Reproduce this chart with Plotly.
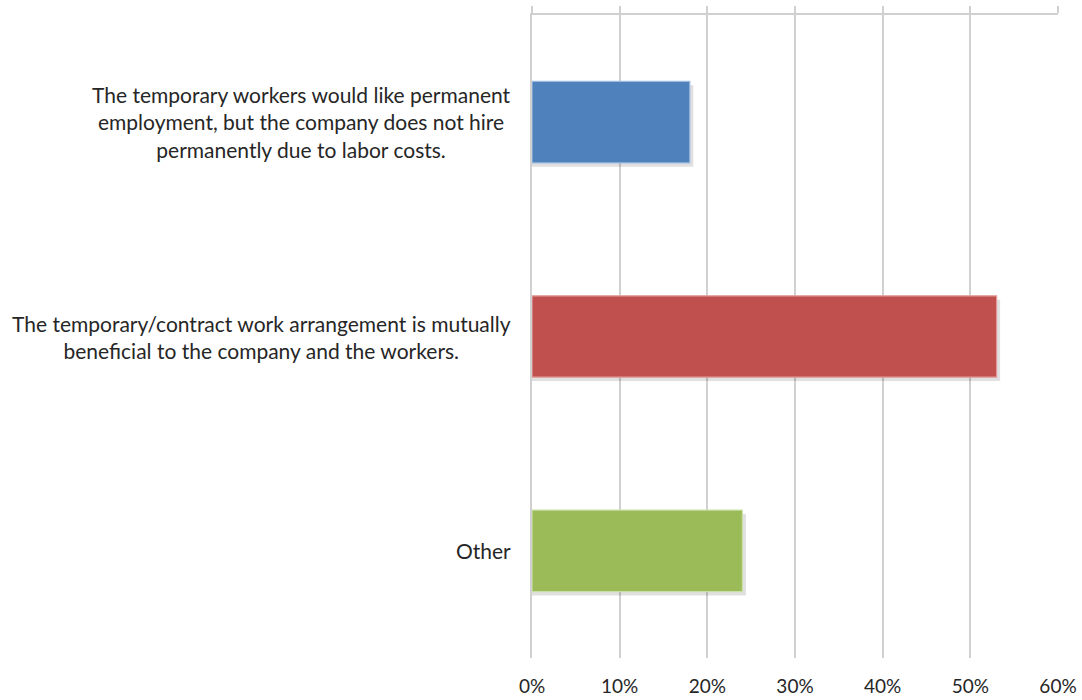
import plotly.graph_objects as go

categories = [
    "The temporary workers would like permanent<br>employment, but the company does not hire<br>permanently due to labor costs.",
    "The temporary/contract work arrangement is mutually<br>beneficial to the company and the workers.",
    "Other",
]
values = [0.18, 0.53, 0.24]
colors = ["#4F81BD", "#C0504D", "#9BBB59"]
border_colors = ["#9DBBE0", "#E39D9B", "#CADFA6"]
tick_vals = [0, 0.1, 0.2, 0.3, 0.4, 0.5, 0.6]
tick_text = ["0%", "10%", "20%", "30%", "40%", "50%", "60%"]

FONT = "Lato"
TEXT = "#262626"
GRID = "#D0D0D0"

fig = go.Figure()

# soft drop shadow behind each bar
fig.add_trace(go.Bar(
    y=categories, x=[v + 0.004 for v in values], orientation="h",
    width=0.38, offset=-0.19 + 0.018,
    marker=dict(color="rgba(0,0,0,0.12)", line=dict(width=0)),
    hoverinfo="skip", showlegend=False,
))
fig.add_trace(go.Bar(
    y=categories, x=values, orientation="h",
    width=0.38, offset=-0.19,
    marker=dict(color=colors, line=dict(color=border_colors, width=1.2)),
    showlegend=False,
))

# centred multi-line category labels to the left of the axis
for c in categories:
    fig.add_annotation(
        x=0, xref="paper", y=c, yref="y", text=c,
        xanchor="right", yanchor="middle", align="center",
        xshift=-19, showarrow=False,
        font=dict(family=FONT, size=21, color=TEXT),
    )

fig.update_layout(
    width=1082, height=700,
    margin=dict(l=532, r=24, t=15, b=42),
    paper_bgcolor="white", plot_bgcolor="white",
    barmode="overlay",
    xaxis=dict(
        range=[0, 0.6], tickvals=tick_vals, ticktext=tick_text,
        showgrid=True, gridcolor=GRID, gridwidth=1.5,
        zeroline=False, showline=False, ticks="",
        tickfont=dict(family=FONT, size=19, color=TEXT),
        ticklabelstandoff=15, automargin=False,
    ),
    xaxis2=dict(
        range=[0, 0.6], tickvals=tick_vals, overlaying="x", side="top",
        showgrid=False, zeroline=False, showline=True, linecolor=GRID, linewidth=1.5,
        ticks="outside", ticklen=7, tickcolor=GRID, tickwidth=1.5,
        showticklabels=False, automargin=False,
    ),
    yaxis=dict(
        categoryorder="array", categoryarray=categories,
        autorange="reversed",
        showticklabels=False, showgrid=False, zeroline=False,
        showline=True, linecolor=GRID, linewidth=1.5,
        ticks="outside", ticklen=0, automargin=False,
    ),
)

# invisible trace to activate the top axis
fig.add_trace(go.Scatter(x=[0, 0.6], y=[categories[0], categories[0]], xaxis="x2",
                         mode="markers", marker=dict(opacity=0), hoverinfo="skip",
                         showlegend=False))

fig.write_html("out.html")
